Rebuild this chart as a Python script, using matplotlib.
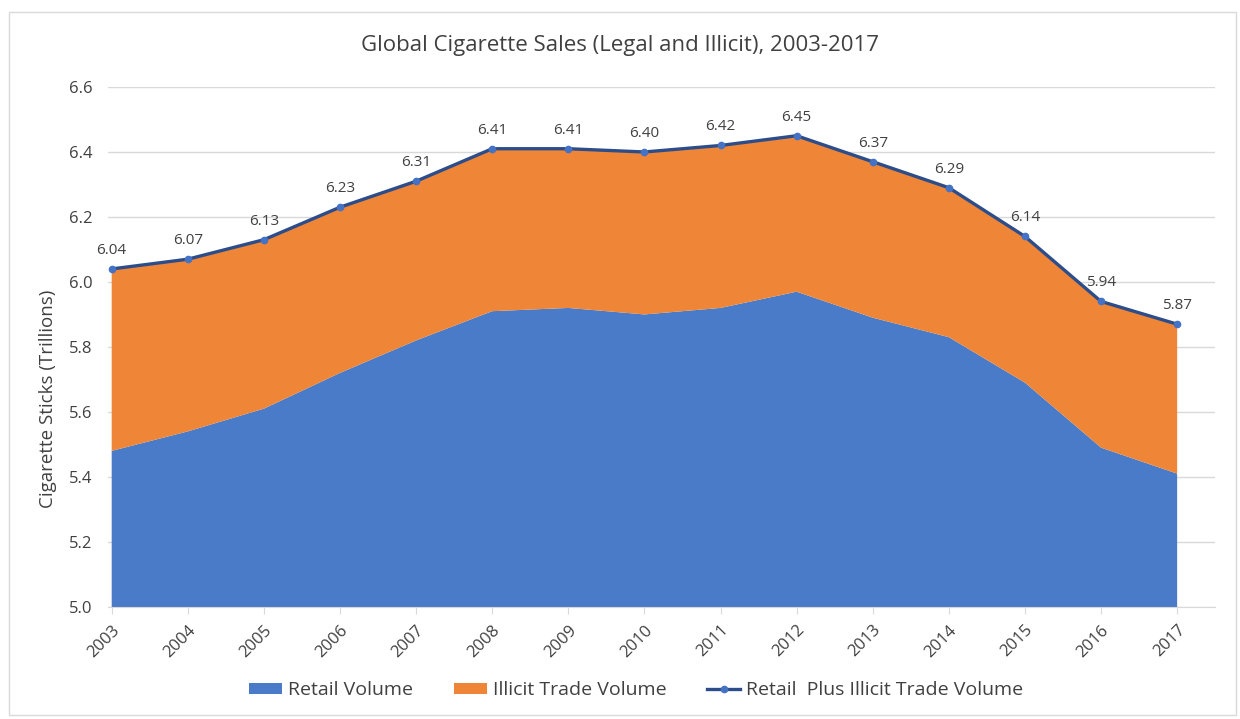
import numpy as np
import matplotlib
matplotlib.use('Agg')
import matplotlib.pyplot as plt
from matplotlib.patches import Rectangle

# data (trillions of sticks)
YEARS = ['2003', '2004', '2005', '2006', '2007', '2008', '2009', '2010',
         '2011', '2012', '2013', '2014', '2015', '2016', '2017']
TOTAL = [6.04, 6.07, 6.13, 6.23, 6.31, 6.41, 6.41, 6.40, 6.42, 6.45,
         6.37, 6.29, 6.14, 5.94, 5.87]
RETAIL = [5.48, 5.54, 5.61, 5.72, 5.82, 5.91, 5.92, 5.90, 5.92, 5.97,
          5.89, 5.83, 5.69, 5.49, 5.41]
ILLICIT = [t - r for t, r in zip(TOTAL, RETAIL)]

BLUE = '#4a7bc8'
ORANGE = '#ee8537'
LINE = '#2c4d8a'
TXT = '#404040'

plt.rcParams['font.family'] = ['Open Sans', 'DejaVu Sans']

fig = plt.figure(figsize=(12.4, 7.19), dpi=100)
ax = fig.add_axes([0.087, 0.156, 0.893, 0.723])

x = np.arange(len(YEARS))
ax.stackplot(x, RETAIL, ILLICIT, colors=[BLUE, ORANGE],
             labels=['Retail Volume', 'Illicit Trade Volume'], zorder=2)
ax.plot(x, TOTAL, color=LINE, lw=2.4, marker='o', ms=4.5,
        mfc='#4472c4', mec='#4472c4', label='Retail  Plus Illicit Trade Volume', zorder=3)

for xi, v in zip(x, TOTAL):
    ax.annotate(f'{v:.2f}', (xi, v), xytext=(0, 8), textcoords='offset points',
                ha='center', va='bottom', fontsize=11, color=TXT)

ax.set_ylim(5.0, 6.6)
ax.set_xlim(-0.05, 14.5)
ax.set_yticks(np.arange(5.0, 6.61, 0.2))
ax.set_yticklabels([f'{v:.1f}' for v in np.arange(5.0, 6.61, 0.2)])
ax.set_xticks(x)
ax.set_xticklabels(YEARS, rotation=45, ha='right', rotation_mode='anchor')
ax.tick_params(axis='y', length=0, labelsize=12, colors=TXT, pad=11)
ax.tick_params(axis='x', length=5, color='#d9d9d9', labelsize=12, colors=TXT, pad=6)
ax.grid(axis='y', color='#d9d9d9', lw=1, zorder=0)
for s in ['top', 'right', 'left']:
    ax.spines[s].set_visible(False)
ax.spines['bottom'].set_color('#d9d9d9')

ax.set_ylabel('Cigarette Sticks (Trillions)', fontsize=13.5, color=TXT)
ax.yaxis.set_label_coords(-0.046, 0.40)
fig.text(0.5, 0.937, 'Global Cigarette Sales (Legal and Illicit), 2003-2017',
         ha='center', va='center', fontsize=16, color=TXT)

handles, labels = ax.get_legend_handles_labels()
fig.legend(handles, labels, loc='center', bbox_to_anchor=(0.513, 0.04), ncol=3,
           frameon=False, fontsize=14, columnspacing=2.1, handlelength=1.7,
           handleheight=0.45, handletextpad=0.3, labelcolor=TXT)

fig.patches.append(Rectangle((0.007, 0.005), 0.99, 0.978, transform=fig.transFigure,
                             fill=False, ec='#d9d9d9', lw=1))

fig.savefig('out.png', dpi=100)
